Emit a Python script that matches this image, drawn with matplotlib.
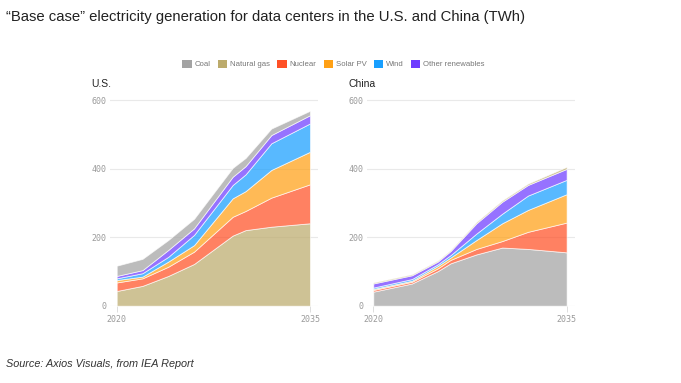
import matplotlib
matplotlib.use("Agg")
import matplotlib.pyplot as plt
from matplotlib.patches import Patch

# Values (TWh per source, stacked)
us_years = [2020, 2022, 2024, 2026, 2029, 2030, 2032, 2035]
us_gas = [43, 58, 87, 122, 205, 221, 231, 241]
us_nuclear = [25, 22, 27, 36, 55, 56, 85, 114]
us_solar = [7, 5, 15, 19, 54, 58, 81, 95]
us_wind = [5, 10, 14, 30, 39, 49, 78, 83]
us_other = [7, 9, 20, 19, 24, 24, 24, 24]
us_coal = [30, 33, 29, 28, 26, 24, 19, 13]

cn_years = [2020, 2023, 2025, 2026, 2028, 2030, 2032, 2035]
cn_coal = [41, 65, 101, 124, 150, 170, 166, 156]
cn_nuclear = [5, 5, 8, 10, 16, 19, 50, 87]
cn_solar = [3, 3, 7, 7, 26, 52, 64, 83]
cn_wind = [4, 5, 5, 7, 19, 28, 42, 42]
cn_other = [12, 11, 8, 12, 30, 35, 31, 32]
cn_gas = [3, 3, 3, 3, 4, 4, 4, 6]

legend_labels = ["Coal", "Natural gas", "Nuclear", "Solar PV", "Wind", "Other renewables"]
y_ticks = [0, 200, 400, 600]
x_ticks = [2020, 2035]

COLOURS = {
  "Coal": "#a3a3a3",
  "Natural gas": "#bcab6c",
  "Nuclear": "#ff5026",
  "Solar PV": "#ffa015",
  "Wind": "#189fff",
  "Other renewables": "#6e3cff",
}

W, H = 681, 383
MONO = "DejaVu Sans Mono"

def setup_axes(ax):
  ax.set_xlim(2019.48, 2035.62)
  ax.set_ylim(0, 605)
  for spine in ax.spines.values():
    spine.set_visible(False)
  for v in y_ticks:
    ax.axhline(v, color="#e9e9e9", lw=0.8, zorder=0)
  ax.set_yticks(y_ticks)
  ax.set_yticklabels([str(v) for v in y_ticks], family=MONO, fontsize=6, color="#9a9a9a")
  ax.tick_params(axis="y", length=0, pad=2.5)
  ax.set_xticks(x_ticks)
  ax.set_xticklabels([str(v) for v in x_ticks], family=MONO, fontsize=6, color="#9a9a9a")
  ax.tick_params(axis="x", length=4, width=0.6, color="#d8d8d8", pad=2.5)

def plot_panel(ax, title, years, series, names):
  colours = [COLOURS[n] for n in names]
  ax.stackplot(years, *series, colors=colours, alpha=0.72,
               edgecolor="white", linewidth=0.6, zorder=2)
  setup_axes(ax)
  ax.text(-0.088, 1.07, title, transform=ax.transAxes, fontsize=7.5,
          color="#222222", va="center", ha="left")

def main():
  plt.rcParams["font.family"] = ["Liberation Sans", "DejaVu Sans"]
  fig = plt.figure(figsize=(W / 100, H / 100), dpi=100)

  bottom = (H - 305.7) / H
  height = 605 * 0.342 / H
  ax_us = fig.add_axes([110 / W, bottom, 208 / W, height])
  ax_cn = fig.add_axes([366.6 / W, bottom, 208 / W, height])

  plot_panel(ax_us, "U.S.", us_years,
             [us_gas, us_nuclear, us_solar, us_wind, us_other, us_coal],
             ["Natural gas", "Nuclear", "Solar PV", "Wind", "Other renewables", "Coal"])
  plot_panel(ax_cn, "China", cn_years,
             [cn_coal, cn_nuclear, cn_solar, cn_wind, cn_other, cn_gas],
             ["Coal", "Nuclear", "Solar PV", "Wind", "Other renewables", "Natural gas"])

  fig.text(6 / W, 1 - 17 / H,
           "\u201cBase case\u201d electricity generation for data centers in the U.S. and China (TWh)",
           fontsize=10.7, color="#222222", va="center", ha="left")

  handles = [Patch(facecolor=COLOURS[n], edgecolor="none") for n in legend_labels]
  fig.legend(handles, legend_labels, loc="center", bbox_to_anchor=(0.49, 1 - 64 / H),
             ncol=6, frameon=False, fontsize=5.6, labelcolor="#777777",
             handlelength=1.2, handleheight=1.2, handletextpad=0.4, columnspacing=0.9)

  fig.text(6 / W, 1 - 364 / H, "Source: Axios Visuals, from IEA Report",
           fontsize=7.8, style="italic", color="#333333", va="center", ha="left")

  fig.savefig("out.png", dpi=100)

if __name__ == "__main__":
  main()
